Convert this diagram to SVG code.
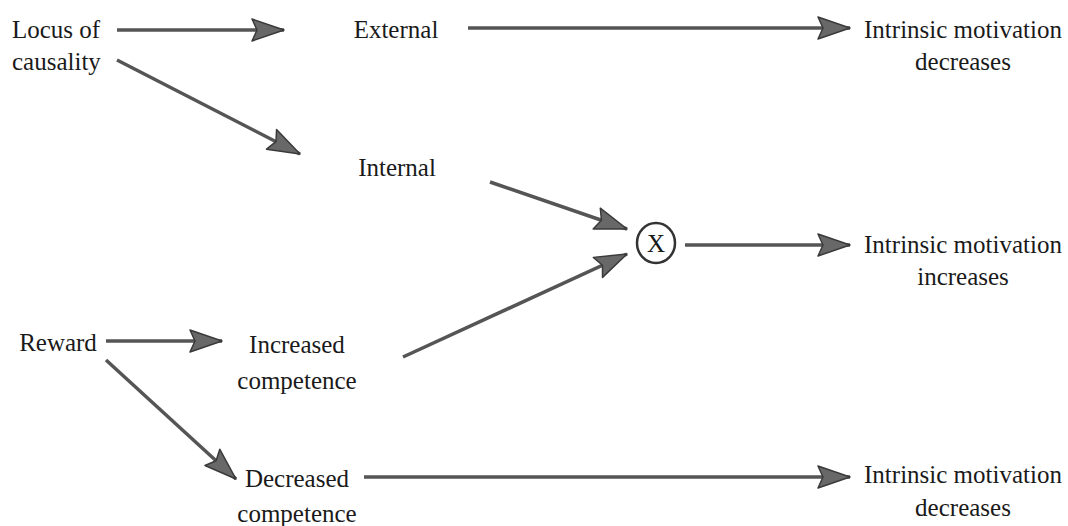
<svg xmlns="http://www.w3.org/2000/svg" width="1068" height="526" viewBox="0 0 1068 526" font-family="'Liberation Serif', 'Times New Roman', Times, serif">
<style>
text{font-family:'Liberation Serif', 'Times New Roman', Times, serif;font-size:25px;fill:#1a1a1a}
.c{text-anchor:middle}
.ln{stroke:#555;stroke-width:3.5;fill:none;marker-end:url(#ah)}
</style>
<defs>
<marker id="ah" markerUnits="userSpaceOnUse" markerWidth="36" markerHeight="26" viewBox="0 0 36 26" refX="34" refY="13" orient="auto">
<path d="M2,2 L34,13 L2,24 L7,13 Z" fill="#686868" stroke="#3a3a3a" stroke-width="1.5" stroke-linejoin="round"/>
</marker>
</defs>
<rect width="1068" height="526" fill="#fff"/>
<g id="connectors">
<line class="ln" x1="117" y1="30" x2="284" y2="30"/>
<line class="ln" x1="468" y1="28" x2="850" y2="28"/>
<line class="ln" x1="117" y1="60" x2="300" y2="154"/>
<line class="ln" x1="490" y1="182" x2="627" y2="229"/>
<line class="ln" x1="685" y1="245" x2="850" y2="245"/>
<line class="ln" x1="403" y1="357" x2="627" y2="254"/>
<line class="ln" x1="106" y1="341" x2="222" y2="341"/>
<line class="ln" x1="106" y1="360" x2="236" y2="479"/>
<line class="ln" x1="364" y1="477" x2="850" y2="477"/>
</g>
<g id="locus"><text x="12" y="38">Locus of</text><text x="12" y="70">causality</text></g>
<g id="external"><text class="c" x="396" y="38">External</text></g>
<g id="out-top"><text class="c" x="963" y="38">Intrinsic motivation</text><text class="c" x="963" y="70">decreases</text></g>
<g id="internal"><text class="c" x="397" y="176">Internal</text></g>
<g id="x-node"><ellipse cx="656" cy="243" rx="19" ry="20" fill="none" stroke="#333" stroke-width="2.5"/><text class="c" x="656" y="252" style="font-size:25px">X</text></g>
<g id="out-mid"><text class="c" x="963" y="253">Intrinsic motivation</text><text class="c" x="963" y="285">increases</text></g>
<g id="reward"><text class="c" x="58" y="351">Reward</text></g>
<g id="increased"><text class="c" x="297" y="353">Increased</text><text class="c" x="297" y="389">competence</text></g>
<g id="decreased"><text class="c" x="297" y="487">Decreased</text><text class="c" x="297" y="522">competence</text></g>
<g id="out-bot"><text class="c" x="963" y="483">Intrinsic motivation</text><text class="c" x="963" y="516">decreases</text></g>
</svg>
